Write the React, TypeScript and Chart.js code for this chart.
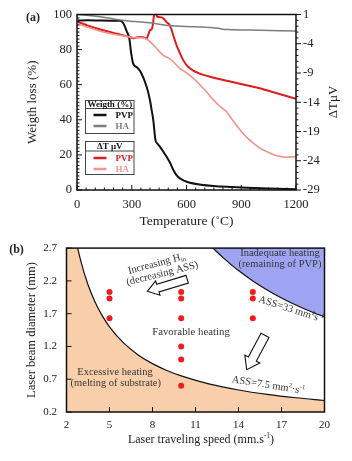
import React, { useEffect, useRef } from "react";
import { Chart, registerables } from "chart.js";

Chart.register(...registerables);

const SERIF = "'Liberation Serif', 'Times New Roman', Times, serif";
const INK = "#222";

// ---------- (a) TGA / DTA ----------
const pvpWeightT = [5, 60, 120, 180, 236, 254, 272, 287, 296, 308, 327, 349, 382, 400, 409, 418, 430, 440, 455, 475, 491, 510, 528, 545, 564, 590, 619, 680, 747, 850, 930, 1050, 1200];
const pvpWeight = [96.6, 96.7, 96.6, 96.5, 96.4, 95, 90.5, 86.2, 78.6, 72, 70, 67.2, 58.7, 51.1, 45.5, 39.8, 28.4, 26.5, 24.6, 21.5, 18.9, 15.5, 11.4, 8.5, 6.6, 5.2, 4.1, 3.0, 2.3, 1.7, 1.3, 0.9, 0.4];
const haWeightT = [5, 144, 236, 320, 400, 510, 600, 747, 790, 830, 950, 1200];
const haWeight = [100, 98.5, 96.8, 96.0, 95.3, 93.6, 93.2, 92.5, 91.8, 91.4, 91.1, 90.6];
const pvpDtaT = [5, 60, 144, 220, 290, 310, 330, 355, 382, 392, 400, 409, 415, 422, 430, 440, 452, 464, 478, 491, 510, 528, 546, 564, 582, 605, 637, 680, 750, 875, 1000, 1100, 1200];
const pvpDta = [-0.3, -0.9, -1.7, -2.3, -2.85, -3.05, -2.9, -2.85, -3.1, -2.3, -1.7, -1.55, -0.85, 0.8, 1.4, 0.6, 0.55, 0.5, 0.2, -0.3, -0.9, -2.6, -4.3, -5.6, -6.8, -7.8, -8.6, -9.2, -9.8, -10.7, -11.6, -12.5, -13.4];
const haDtaT = [5, 144, 290, 327, 355, 391, 430, 473, 510, 564, 619, 692, 747, 784, 805, 820, 838, 893, 930, 966, 1010, 1058, 1100, 1149, 1200];
const haDta = [-0.6, -2.0, -2.85, -3.0, -2.95, -3.4, -4.6, -6.0, -6.6, -8.2, -9.4, -11.6, -13.6, -14.7, -15.2, -15.6, -16.4, -18.7, -20.0, -21.0, -22.0, -22.7, -23.2, -23.4, -23.3];
const tempTicks = [0, 300, 600, 900, 1200];
const weightTicks = [0, 20, 40, 60, 80, 100];
const dtaTicks = [-29, -24, -19, -14, -9, -4, 1];

// ---------- (b) process map ----------
const speedPts = [5, 5, 5, 10, 10, 10, 10, 10, 10, 15, 15, 15];
const diamPts = [2.03, 1.93, 1.63, 2.03, 1.93, 1.63, 1.2, 1.0, 0.6, 2.03, 1.93, 1.63];
const lowSpeed = [2, 2.5, 3, 3.5, 4, 4.5, 5, 6, 7, 8, 9, 10, 12, 14, 16, 18, 20];
const lowDiam = [3.75, 3.0, 2.5, 2.14, 1.875, 1.667, 1.5, 1.25, 1.071, 0.9375, 0.833, 0.75, 0.625, 0.536, 0.469, 0.417, 0.375];
const highSpeed = [12, 12.5, 13, 14, 15, 16, 17, 18, 19, 20];
const highDiam = [2.75, 2.64, 2.54, 2.357, 2.2, 2.0625, 1.94, 1.833, 1.737, 1.65];
const speedTicks = [2, 5, 8, 11, 14, 17, 20];
const diamTicks = [0.2, 0.7, 1.2, 1.7, 2.2, 2.7];

const pair = (xs: number[], ys: number[]) => xs.map((x, i) => ({ x, y: ys[i] }));
const setTicks = (arr: number[]) => (s: any) => {
  s.ticks = arr.map((v) => ({ value: v }));
};

type Seg = [string, number];
function drawRich(ctx: CanvasRenderingContext2D, segs: Seg[], x: number, y: number, size: number, rot: number, color: string, align = "center", bold = false) {
  ctx.save();
  ctx.translate(x, y);
  ctx.rotate(rot);
  ctx.fillStyle = color;
  ctx.textBaseline = "middle";
  ctx.textAlign = "left";
  const fontFor = (k: number) => `${bold ? "bold " : ""}${k === 0 ? size : size * 0.62}px ${SERIF}`;
  let total = 0;
  const widths = segs.map(([t, k]) => {
    ctx.font = fontFor(k);
    const w = ctx.measureText(t).width;
    total += w;
    return w;
  });
  let cx = align === "center" ? -total / 2 : align === "right" ? -total : 0;
  segs.forEach(([t, k], i) => {
    ctx.font = fontFor(k);
    const dy = k > 0 ? -size * 0.32 : k < 0 ? size * 0.3 : 0;
    ctx.fillText(t, cx, dy);
    cx += widths[i];
  });
  ctx.restore();
}

function blockArrow(ctx: CanvasRenderingContext2D, tx: number, ty: number, hx: number, hy: number, shaftW: number, headW: number, headL: number) {
  const dx = hx - tx, dy = hy - ty;
  const len = Math.hypot(dx, dy);
  const ux = dx / len, uy = dy / len;
  const nx = -uy, ny = ux;
  const bx = hx - ux * headL, by = hy - uy * headL;
  const pts = [
    [tx + (nx * shaftW) / 2, ty + (ny * shaftW) / 2],
    [bx + (nx * shaftW) / 2, by + (ny * shaftW) / 2],
    [bx + (nx * headW) / 2, by + (ny * headW) / 2],
    [hx, hy],
    [bx - (nx * headW) / 2, by - (ny * headW) / 2],
    [bx - (nx * shaftW) / 2, by - (ny * shaftW) / 2],
    [tx - (nx * shaftW) / 2, ty - (ny * shaftW) / 2],
  ];
  ctx.save();
  ctx.beginPath();
  pts.forEach(([x, y], i) => (i ? ctx.lineTo(x, y) : ctx.moveTo(x, y)));
  ctx.closePath();
  ctx.fillStyle = "#fff";
  ctx.fill();
  ctx.strokeStyle = "#111";
  ctx.lineWidth = 1.1;
  ctx.stroke();
  ctx.restore();
}

const COL_PVP_W = "#111111";
const COL_HA_W = "#7d7d7d";
const COL_PVP_T = "#e01b1f";
const COL_HA_T = "#f2968c";

const plotA = {
  id: "plotA",
  afterDraw(chart: any) {
    const ctx: CanvasRenderingContext2D = chart.ctx;
    const { left, right, top, bottom } = chart.chartArea;
    const xs = chart.scales.x, ys = chart.scales.y, y2 = chart.scales.y2;
    const line = (x1: number, y1: number, x2: number, y2_: number) => {
      ctx.beginPath();
      ctx.moveTo(x1, y1);
      ctx.lineTo(x2, y2_);
      ctx.stroke();
    };
    ctx.save();
    ctx.strokeStyle = "#111";
    ctx.lineWidth = 1;
    for (let v = 0; v <= 100; v += 2) {
      const p = ys.getPixelForValue(v);
      line(left, p, left + (v % 20 === 0 ? 5 : 2.5), p);
    }
    for (let v = 0; v <= 1200; v += 50) {
      const p = xs.getPixelForValue(v);
      line(p, bottom, p, bottom - (v % 300 === 0 ? 5 : 2.5));
    }
    for (let v = -29; v <= 1; v += 1) {
      const p = y2.getPixelForValue(v);
      line(right, p, right + ((v + 29) % 5 === 0 ? 5 : 2.5), p);
    }
    ctx.lineWidth = 1.5;
    ctx.strokeRect(left, top, right - left, bottom - top);

    // legends
    const box = (x: number, y: number, w: number, h: number, div: number, head: string, items: [string, string][], rows: number[]) => {
      ctx.strokeStyle = "#444";
      ctx.lineWidth = 1;
      ctx.strokeRect(x, y, w, h);
      line(x, div, x + w, div);
      ctx.font = `bold 9px ${SERIF}`;
      ctx.fillStyle = "#111";
      ctx.textAlign = "center";
      ctx.textBaseline = "middle";
      ctx.fillText(head, x + w / 2, (y + div) / 2 + 0.5);
      items.forEach(([label, col], i) => {
        ctx.strokeStyle = col;
        ctx.lineWidth = 2.5;
        line(x + 8, rows[i], x + 21, rows[i]);
        ctx.fillStyle = col;
        ctx.textAlign = "left";
        ctx.fillText(label, x + 30, rows[i] + 0.5);
      });
    };
    box(85.5, 100.5, 48.5, 33, 108.5, "Weigth (%)", [["PVP", COL_PVP_W], ["HA", COL_HA_W]], [115, 126]);
    box(85.5, 141.5, 48.5, 33, 151, "ΔT μV", [["PVP", COL_PVP_T], ["HA", COL_HA_T]], [158, 169]);

    drawRich(ctx, [["(a)", 0]], 33, 18, 12, 0, INK, "center", true);
    drawRich(ctx, [["ΔTμV", 0]], 334, 102, 13, -Math.PI / 2, INK);
    ctx.restore();
  },
};

const OY = 232;
const plotB = {
  id: "plotB",
  afterDraw(chart: any) {
    const ctx: CanvasRenderingContext2D = chart.ctx;
    const { left, right, top, bottom } = chart.chartArea;
    const xs = chart.scales.x, ys = chart.scales.y;
    const line = (x1: number, y1: number, x2: number, y2_: number) => {
      ctx.beginPath();
      ctx.moveTo(x1, y1);
      ctx.lineTo(x2, y2_);
      ctx.stroke();
    };
    ctx.save();
    ctx.strokeStyle = "#111";
    ctx.lineWidth = 1;
    diamTicks.forEach((v) => {
      const p = ys.getPixelForValue(v);
      line(left, p, left + 5, p);
    });
    speedTicks.forEach((v) => {
      const p = xs.getPixelForValue(v);
      line(p, bottom, p, bottom - 5);
    });
    ctx.lineWidth = 1.5;
    ctx.strokeRect(left, top, right - left, bottom - top);

    const T = "#353535";
    const fs = 10.5;
    const deg = Math.PI / 180;
    drawRich(ctx, [["Inadequate heating", 0]], 280, 253 - OY, fs, 0, T);
    drawRich(ctx, [["(remaining of PVP)", 0]], 280, 264.7 - OY, fs, 0, T);
    drawRich(ctx, [["Increasing H", 0], ["in", -1]], 156.7, 263.7 - OY, fs, -15 * deg, T);
    drawRich(ctx, [["(decreasing ASS)", 0]], 162.3, 273.7 - OY, fs, -14 * deg, T);
    drawRich(ctx, [["Favorable heating", 0]], 191, 332.3 - OY, fs + 0.3, 0, T);
    drawRich(ctx, [["ASS=33 mm", 0], ["2", 1], ["s", 0], ["-1", 1]], 291, 309.5 - OY, fs, 18 * deg, T);
    drawRich(ctx, [["ASS=7.5 mm", 0], ["2", 1], ["·s", 0], ["-1", 1]], 268.3, 385.3 - OY, fs, 9 * deg, T);
    drawRich(ctx, [["Excessive heating", 0]], 115, 372 - OY, fs, 0, T);
    drawRich(ctx, [["(melting of substrate)", 0]], 115.8, 383 - OY, fs, 0, T);
    blockArrow(ctx, 187.2, 279.2 - OY, 147.3, 291.3 - OY, 8, 15, 11);
    blockArrow(ctx, 265, 335.3 - OY, 246.7, 369.7 - OY, 9, 17, 12);
    drawRich(ctx, [["(b)", 0]], 16.5, 250 - OY, 12, 0, INK, "center", true);
    drawRich(ctx, [["Laser traveling speed (mm.s", 0], ["-1", 1], [")", 0]], 201, 440 - OY, 12, 0, INK);
    ctx.restore();
  },
};

const noGrid = { display: false, drawTicks: false };

export default function App() {
  const refA = useRef<HTMLCanvasElement>(null);
  const refB = useRef<HTMLCanvasElement>(null);

  useEffect(() => {
    const tickFontA = { family: SERIF, size: 12.5 };
    const a = new Chart(refA.current!, {
      type: "line",
      data: {
        datasets: [
          { label: "HA weight", data: pair(haWeightT, haWeight), borderColor: COL_HA_W, borderWidth: 1.5, yAxisID: "y", pointRadius: 0, cubicInterpolationMode: "monotone" },
          { label: "HA ΔT", data: pair(haDtaT, haDta), borderColor: COL_HA_T, borderWidth: 1.6, yAxisID: "y2", pointRadius: 0, cubicInterpolationMode: "monotone" },
          { label: "PVP ΔT", data: pair(pvpDtaT, pvpDta), borderColor: COL_PVP_T, borderWidth: 2, yAxisID: "y2", pointRadius: 0, cubicInterpolationMode: "monotone" },
          { label: "PVP weight", data: pair(pvpWeightT, pvpWeight), borderColor: COL_PVP_W, borderWidth: 2, yAxisID: "y", pointRadius: 0, cubicInterpolationMode: "monotone" },
        ],
      } as any,
      options: {
        animation: false,
        responsive: false,
        maintainAspectRatio: false,
        layout: { padding: { top: 14, left: 0, right: 0, bottom: 0 } },
        plugins: { legend: { display: false }, tooltip: { enabled: false } },
        scales: {
          x: {
            type: "linear",
            min: 0,
            max: 1200,
            afterBuildTicks: setTicks(tempTicks),
            afterFit: (s: any) => { s.height = 42; },
            grid: noGrid,
            border: { display: false },
            ticks: { font: tickFontA, color: INK, padding: 7, maxRotation: 0, autoSkip: false, callback: (v: any) => String(v) },
            title: { display: true, text: "Temperature (˚C)", font: { family: SERIF, size: 13.5 }, color: INK, padding: { top: 0, bottom: 2 } },
          },
          y: {
            type: "linear",
            position: "left",
            min: 0,
            max: 100,
            afterBuildTicks: setTicks(weightTicks),
            afterFit: (s: any) => { s.width = 77; },
            grid: noGrid,
            border: { display: false },
            ticks: { font: tickFontA, color: INK, padding: 5, autoSkip: false, callback: (v: any) => String(v) },
            title: { display: true, text: "Weigth loss (%)", font: { family: SERIF, size: 13 }, color: INK, padding: { top: 25, bottom: 0 } },
          },
          y2: {
            type: "linear",
            position: "right",
            min: -29,
            max: 1,
            afterBuildTicks: setTicks(dtaTicks),
            afterFit: (s: any) => { s.width = 56; },
            grid: noGrid,
            border: { display: false },
            ticks: { font: tickFontA, color: INK, padding: 7, autoSkip: false, callback: (v: any) => String(v) },
          },
        },
      } as any,
      plugins: [plotA],
    });

    const tickFontB = { family: SERIF, size: 11 };
    const b = new Chart(refB.current!, {
      type: "scatter",
      data: {
        datasets: [
          { label: "points", data: pair(speedPts, diamPts), pointRadius: 3, pointBackgroundColor: "#ee1c1c", pointBorderWidth: 0, showLine: false, order: 0 },
          { label: "ASS=7.5", data: pair(lowSpeed, lowDiam), showLine: true, borderColor: "#111", borderWidth: 1.2, pointRadius: 0, fill: "start", backgroundColor: "#f8cfaa", cubicInterpolationMode: "monotone", order: 2 },
          { label: "ASS=33", data: pair(highSpeed, highDiam), showLine: true, borderColor: "#111", borderWidth: 1.2, pointRadius: 0, fill: "end", backgroundColor: "#9ea4f2", cubicInterpolationMode: "monotone", order: 2 },
        ],
      } as any,
      options: {
        animation: false,
        responsive: false,
        maintainAspectRatio: false,
        layout: { padding: { top: 15, left: 0, right: 27.5, bottom: 0 } },
        plugins: { legend: { display: false }, tooltip: { enabled: false } },
        scales: {
          x: {
            type: "linear",
            min: 2,
            max: 20,
            afterBuildTicks: setTicks(speedTicks),
            afterFit: (s: any) => { s.height = 49; },
            grid: noGrid,
            border: { display: false },
            ticks: { font: tickFontB, color: INK, padding: 6.5, maxRotation: 0, autoSkip: false, callback: (v: any) => String(v) },
          },
          y: {
            type: "linear",
            min: 0.2,
            max: 2.7,
            afterBuildTicks: setTicks(diamTicks),
            afterFit: (s: any) => { s.width = 66.5; },
            grid: noGrid,
            border: { display: false },
            ticks: { font: tickFontB, color: INK, padding: 9.5, autoSkip: false, callback: (v: any) => Number(v).toFixed(1) },
            title: { display: true, text: "Laser beam diameter (mm)", font: { family: SERIF, size: 12.5 }, color: INK, padding: { top: 24.5, bottom: 0 } },
          },
        },
      } as any,
      plugins: [plotB],
    });

    return () => {
      a.destroy();
      b.destroy();
    };
  }, []);

  return (
    <div style={{ position: "absolute", left: 0, top: 0, width: 352, height: 461, background: "#fff" }}>
      <canvas ref={refA} width={352} height={232} style={{ position: "absolute", left: 0, top: 0, width: 352, height: 232 }} />
      <canvas ref={refB} width={352} height={229} style={{ position: "absolute", left: 0, top: 232, width: 352, height: 229 }} />
    </div>
  );
}
